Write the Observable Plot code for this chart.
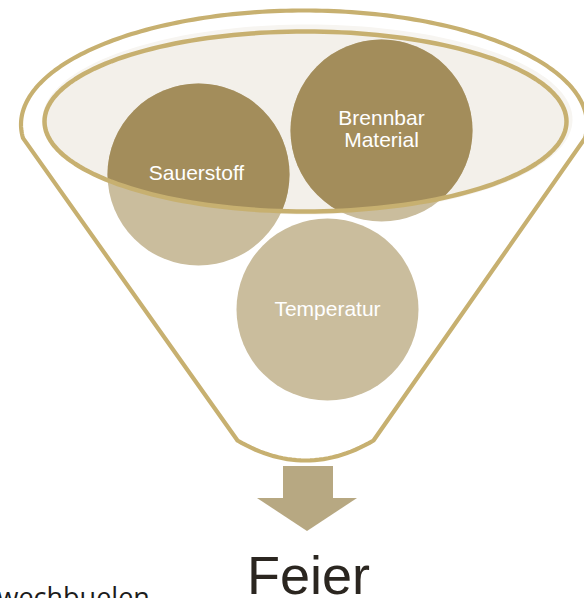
<!DOCTYPE html>
<html>
<head>
<meta charset="utf-8">
<script src="https://cdn.jsdelivr.net/npm/d3@7"></script>
<script src="https://cdn.jsdelivr.net/npm/@observablehq/plot@0.6"></script>
<style>
  html, body { margin: 0; padding: 0; background: #ffffff; overflow: hidden; }
  #chart { width: 584px; height: 598px; }
</style>
</head>
<body>
<div id="chart"></div>
<script>
// ---- data ----
const circleLabels = ["Sauerstoff", "Brennbar\nMaterial", "Temperatur"];
const circleX = [198, 381, 327];
const circleY = [174, 130, 309];
const circleR = [91, 91, 91];
const circleInBowl = [true, true, false];

const resultLabel = "Feier";
const cornerLabel = "wechbuelen";

// funnel geometry (diagram layout)
const rim = {cx: 303.5, cy: 124, rx: 283, ry: 114};
const bowl = {cx: 305, cy: 121, rx: 261, ry: 90};
const spoutLeft = [237, 440];
const spoutRight = [373, 440];
const spoutBottomY = 460;
const arrowShaft = {x1: 283, x2: 333, y1: 466, y2: 498};
const arrowHead = {x: [257, 307, 357], top: 498, tip: 531};

// ---- helpers ----
function ellipsePts(e, t0, t1, n) {
  return d3.range(n + 1).map(k => {
    const t = t0 + (t1 - t0) * k / n;
    return [e.cx + e.rx * Math.cos(t), e.cy - e.ry * Math.sin(t)];
  });
}
function quadPts(p0, c, p1, n) {
  return d3.range(n + 1).map(k => {
    const s = k / n, a = (1 - s) * (1 - s), b = 2 * s * (1 - s), d = s * s;
    return [a * p0[0] + b * c[0] + d * p1[0], a * p0[1] + b * c[1] + d * p1[1]];
  });
}

const bowlOutline = ellipsePts(bowl, 0, 2 * Math.PI, 180);
const halo = ellipsePts({cx: bowl.cx + 2, cy: bowl.cy - 2, rx: bowl.rx + 4, ry: bowl.ry + 5}, 0, 2 * Math.PI, 180);
const funnel = [
  spoutLeft,
  ...ellipsePts(rim, Math.PI + 0.12, -0.12, 160),
  spoutRight,
  ...quadPts(spoutRight, [(spoutLeft[0] + spoutRight[0]) / 2, 2 * spoutBottomY - spoutLeft[1]], spoutLeft, 30)
];

const idx = d3.range(circleLabels.length);
const bowlIdx = idx.filter(i => circleInBowl[i]);
const headPts = arrowHead.x.map((x, k) => ({x, y1: arrowHead.top, y2: k === 1 ? arrowHead.tip : arrowHead.top}));

const gold = "#c7b070";

const svg = Plot.plot({
  width: 584,
  height: 598,
  margin: 0,
  x: {domain: [0, 584], range: [0, 584], axis: null},
  y: {domain: [0, 598], range: [0, 598], axis: null},
  r: {type: "identity"},
  style: {background: "#ffffff"},
  marks: [
    Plot.line(halo, {x: d => d[0], y: d => d[1], fill: "#f7f5f1", stroke: "none"}),
    Plot.line(bowlOutline, {x: d => d[0], y: d => d[1], fill: "#f3f0ea", stroke: "none"}),
    Plot.dot(idx, {x: i => circleX[i], y: i => circleY[i], r: i => circleR[i], fill: "#cabd9d", stroke: "none", fillOpacity: 1}),
    Plot.dot(bowlIdx, {x: i => circleX[i], y: i => circleY[i], r: i => circleR[i], fill: "#a38d5b", stroke: "none", fillOpacity: 1, ariaLabel: () => "bowl circle"}),
    Plot.line(bowlOutline, {x: d => d[0], y: d => d[1], stroke: gold, strokeWidth: 4.5}),
    Plot.line(funnel, {x: d => d[0], y: d => d[1], stroke: gold, strokeWidth: 4.2, strokeLinejoin: "round"}),
    Plot.rect([arrowShaft], {x1: d => d.x1, x2: d => d.x2, y1: d => d.y1, y2: d => d.y2, fill: "#b7a882"}),
    Plot.areaY(headPts, {x: d => d.x, y1: d => d.y1, y2: d => d.y2, fill: "#b7a882", curve: "linear"}),
    Plot.text(idx, {
      x: i => circleX[i] - (i === 0 ? 2 : 0),
      y: i => circleY[i] + (i === 0 ? -2 : i === 1 ? -2 : -1),
      text: i => circleLabels[i],
      fill: "#ffffff", fontSize: 21, fontFamily: "Liberation Sans, Arial, sans-serif",
      lineHeight: 1.05, textAnchor: "middle"
    }),
    Plot.text([resultLabel], {x: () => 308, y: () => 593, text: d => d, fill: "#2b2620",
      fontSize: 54, fontFamily: "Liberation Sans, Arial, sans-serif", textAnchor: "middle", lineAnchor: "bottom"}),
    Plot.text([cornerLabel], {x: () => -3, y: () => 606, text: d => d, fill: "#1c1c1c",
      fontSize: 27, fontFamily: "Open Sans, sans-serif", textAnchor: "start", lineAnchor: "bottom"})
  ]
});

// clip the dark (filled) parts of the circles to the bowl surface
const xs = svg.scale("x"), ys = svg.scale("y");
const sel = d3.select(svg);
const defs = sel.insert("defs", ":first-child");
defs.append("clipPath").attr("id", "bowlclip")
  .attr("clipPathUnits", "userSpaceOnUse")
  .append("ellipse")
  .attr("cx", xs.apply(bowl.cx)).attr("cy", ys.apply(bowl.cy))
  .attr("rx", bowl.rx).attr("ry", bowl.ry);
sel.selectAll('[aria-label="bowl circle"]').attr("clip-path", "url(#bowlclip)");

document.getElementById("chart").appendChild(svg);
</script>
</body>
</html>
